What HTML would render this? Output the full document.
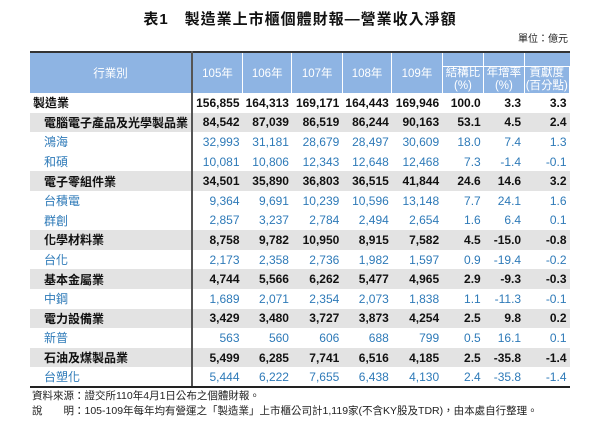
<!DOCTYPE html>
<html><head><meta charset="utf-8"><style>
body{margin:0;width:600px;height:422px;background:#fff;font-family:"Liberation Sans","Noto Sans CJK TC",sans-serif;position:relative;overflow:hidden}
.title{position:absolute;top:8px;left:0;width:600px;text-align:center;font-family:"Liberation Sans","Noto Sans CJK TC",sans-serif;font-weight:bold;font-size:15px;letter-spacing:1px;color:#111}
.unit{position:absolute;top:30px;right:32px;font-size:10px;color:#222}
table{position:absolute;left:30px;top:51px;width:540px;border-collapse:collapse;font-size:12px;font-family:"Liberation Sans","Noto Sans CJK TC",sans-serif}
th{background:#8eb4e3;color:#fff;font-weight:normal;font-size:11.5px;border-left:1px solid #fff;padding:0}
thead tr:first-child th{border-top:2px solid #333}
td{height:19.6px;padding:0 3px 0 0;text-align:right;white-space:nowrap;box-sizing:border-box}
td.l{text-align:left;padding-left:3px;border-right:2px solid #555}
tr.b td{font-weight:bold;color:#111}
tr.g td{background:#e3e3e3}
tr.g td.l{padding-left:14px}
tr.c td{color:#2e7ab8}
tr.c td.l{padding-left:14px}
tbody tr:last-child td{border-bottom:2px solid #222}
.sub{border:1px solid #fff;line-height:13px;font-size:11.5px}
.foot{position:absolute;left:32px;font-size:10.5px;color:#222}
</style></head><body>
<div class="title">表1　製造業上市櫃個體財報—營業收入淨額</div>
<div class="unit">單位：億元</div>
<table>
<colgroup><col style="width:153px"><col style="width:51px"><col style="width:50px"><col style="width:51px"><col style="width:50px"><col style="width:51px"><col style="width:43px"><col style="width:42px"><col style="width:49px"></colgroup>
<thead>
<tr style="height:14px"><th rowspan="2" style="border-left:none;border-right:2px solid #555">行業別</th><th rowspan="2">105年</th><th rowspan="2">106年</th><th rowspan="2">107年</th><th rowspan="2">108年</th><th rowspan="2">109年</th><th></th><th></th><th></th></tr>
<tr style="height:27px"><th class="sub">結構比<br>(%)</th><th class="sub">年增率<br>(%)</th><th class="sub">貢獻度<br>(百分點)</th></tr>
</thead>
<tbody>
<tr class="b"><td class="l">製造業</td><td>156,855</td><td>164,313</td><td>169,171</td><td>164,443</td><td>169,946</td><td>100.0</td><td>3.3</td><td>3.3</td></tr>
<tr class="b g"><td class="l">電腦電子產品及光學製品業</td><td>84,542</td><td>87,039</td><td>86,519</td><td>86,244</td><td>90,163</td><td>53.1</td><td>4.5</td><td>2.4</td></tr>
<tr class="c"><td class="l">鴻海</td><td>32,993</td><td>31,181</td><td>28,679</td><td>28,497</td><td>30,609</td><td>18.0</td><td>7.4</td><td>1.3</td></tr>
<tr class="c"><td class="l">和碩</td><td>10,081</td><td>10,806</td><td>12,343</td><td>12,648</td><td>12,468</td><td>7.3</td><td>-1.4</td><td>-0.1</td></tr>
<tr class="b g"><td class="l">電子零組件業</td><td>34,501</td><td>35,890</td><td>36,803</td><td>36,515</td><td>41,844</td><td>24.6</td><td>14.6</td><td>3.2</td></tr>
<tr class="c"><td class="l">台積電</td><td>9,364</td><td>9,691</td><td>10,239</td><td>10,596</td><td>13,148</td><td>7.7</td><td>24.1</td><td>1.6</td></tr>
<tr class="c"><td class="l">群創</td><td>2,857</td><td>3,237</td><td>2,784</td><td>2,494</td><td>2,654</td><td>1.6</td><td>6.4</td><td>0.1</td></tr>
<tr class="b g"><td class="l">化學材料業</td><td>8,758</td><td>9,782</td><td>10,950</td><td>8,915</td><td>7,582</td><td>4.5</td><td>-15.0</td><td>-0.8</td></tr>
<tr class="c"><td class="l">台化</td><td>2,173</td><td>2,358</td><td>2,736</td><td>1,982</td><td>1,597</td><td>0.9</td><td>-19.4</td><td>-0.2</td></tr>
<tr class="b g"><td class="l">基本金屬業</td><td>4,744</td><td>5,566</td><td>6,262</td><td>5,477</td><td>4,965</td><td>2.9</td><td>-9.3</td><td>-0.3</td></tr>
<tr class="c"><td class="l">中鋼</td><td>1,689</td><td>2,071</td><td>2,354</td><td>2,073</td><td>1,838</td><td>1.1</td><td>-11.3</td><td>-0.1</td></tr>
<tr class="b g"><td class="l">電力設備業</td><td>3,429</td><td>3,480</td><td>3,727</td><td>3,873</td><td>4,254</td><td>2.5</td><td>9.8</td><td>0.2</td></tr>
<tr class="c"><td class="l">新普</td><td>563</td><td>560</td><td>606</td><td>688</td><td>799</td><td>0.5</td><td>16.1</td><td>0.1</td></tr>
<tr class="b g"><td class="l">石油及煤製品業</td><td>5,499</td><td>6,285</td><td>7,741</td><td>6,516</td><td>4,185</td><td>2.5</td><td>-35.8</td><td>-1.4</td></tr>
<tr class="c"><td class="l">台塑化</td><td>5,444</td><td>6,222</td><td>7,655</td><td>6,438</td><td>4,130</td><td>2.4</td><td>-35.8</td><td>-1.4</td></tr>
</tbody></table>
<div class="foot" style="top:388px">資料來源：證交所110年4月1日公布之個體財報。</div>
<div class="foot" style="top:403px">說　　明：105-109年每年均有營運之「製造業」上市櫃公司計1,119家(不含KY股及TDR)，由本處自行整理。</div>
</body></html>
